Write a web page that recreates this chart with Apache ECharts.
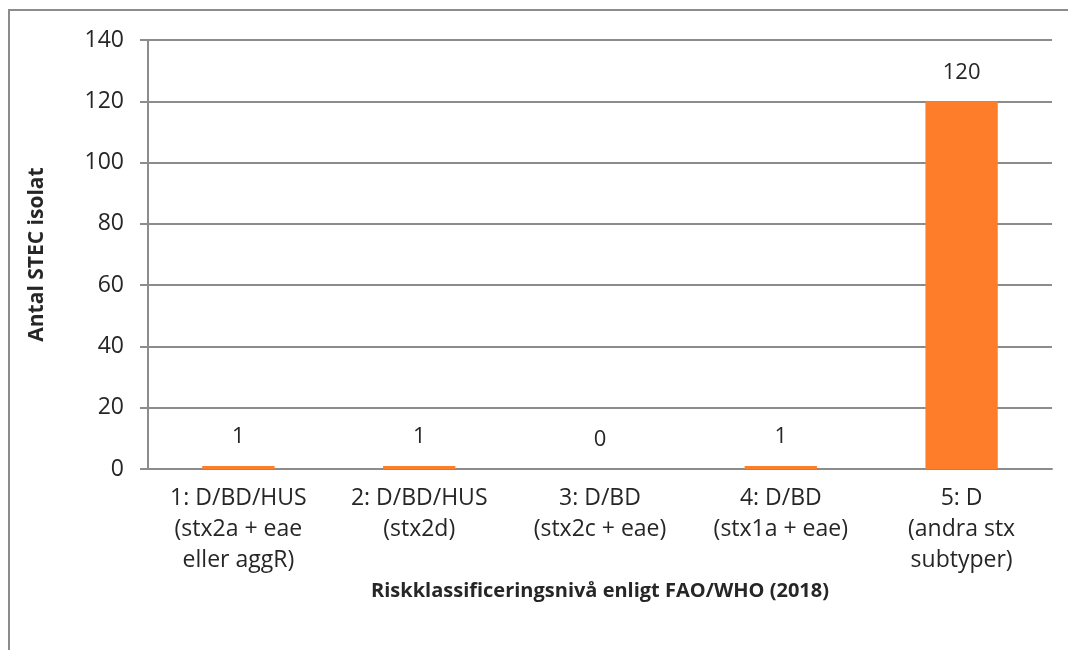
<!DOCTYPE html>
<html>
<head>
<meta charset="utf-8">
<script src="https://cdn.jsdelivr.net/npm/echarts@6/dist/echarts.min.js"></script>
<style>
html,body{margin:0;padding:0;background:#fff;}
#chart{width:1068px;height:650px;}
</style>
</head>
<body>
<div id="chart"></div>
<script>
var categories = [
	"1: D/BD/HUS\n(stx2a + eae\neller aggR)",
	"2: D/BD/HUS\n(stx2d)",
	"3: D/BD\n(stx2c + eae)",
	"4: D/BD\n(stx1a + eae)",
	"5: D\n(andra stx\nsubtyper)"
];
var counts = [1, 1, 0, 1, 120];

var FONT = "Open Sans";
var chart = echarts.init(document.getElementById("chart"));
chart.setOption({
	backgroundColor: "#fff",
	animation: false,
	textStyle: {fontFamily: FONT, color: "#262626"},
	graphic: [{
		type: "rect",
		shape: {x: 9, y: 10, width: 1200, height: 800},
		style: {fill: "none", stroke: "#8c8c8c", lineWidth: 2},
		silent: true
	}],
	grid: {left: 148, right: 16, top: 40, bottom: 181},
	xAxis: {
		type: "category",
		data: categories,
		name: "Riskklassificeringsnivå enligt FAO/WHO (2018)",
		nameLocation: "middle",
		nameGap: 96,
		nameTextStyle: {fontFamily: FONT, fontWeight: "bold", fontSize: 20, color: "#262626"},
		axisLine: {lineStyle: {color: "#8c8c8c", width: 2}},
		axisTick: {show: false},
		axisLabel: {fontFamily: FONT, fontSize: 23, color: "#262626", lineHeight: 31, margin: 14, interval: 0}
	},
	yAxis: {
		type: "value",
		min: 0,
		max: 140,
		interval: 20,
		name: "Antal STEC isolat",
		nameLocation: "middle",
		nameGap: 100,
		nameTextStyle: {fontFamily: FONT, fontWeight: "bold", fontSize: 21, color: "#262626"},
		axisLine: {show: true, lineStyle: {color: "#8c8c8c", width: 2}},
		axisTick: {show: true, length: 8, lineStyle: {color: "#8c8c8c", width: 2}},
		splitLine: {lineStyle: {color: "#8c8c8c", width: 2}},
		axisLabel: {fontFamily: FONT, fontSize: 23, color: "#262626", margin: 24}
	},
	series: [{
		type: "bar",
		data: counts,
		barWidth: "40%",
		itemStyle: {color: "#FE7D2B"},
		label: {show: true, position: "top", distance: 18, fontFamily: FONT, fontSize: 22, color: "#262626"}
	}]
});
</script>
</body>
</html>
